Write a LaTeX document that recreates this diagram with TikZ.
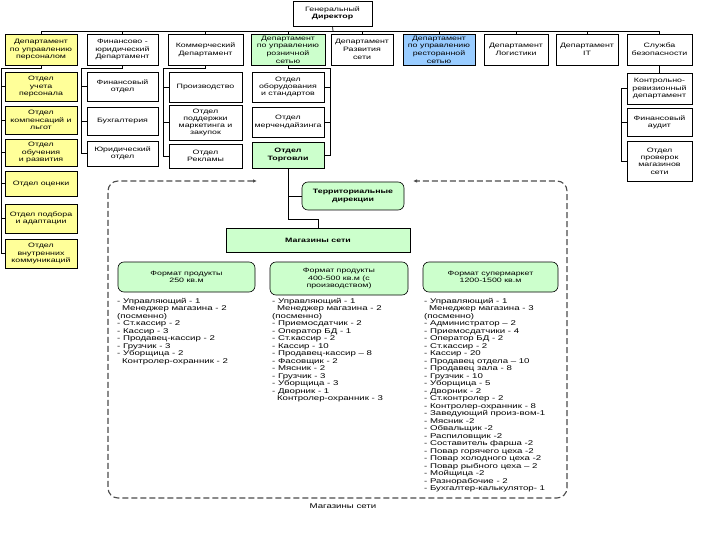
\documentclass[tikz,border=0pt]{standalone}
\usepackage{fontspec}
\setmainfont{Liberation Sans}[FakeStretch=1.4]
\usetikzlibrary{arrows.meta,calc}
\definecolor{hry}{HTML}{FFFF99}
\definecolor{grn}{HTML}{CCFFCC}
\definecolor{blu}{HTML}{99CCFF}
\tikzset{
  boxs/.style={draw=black, line width=0.6pt, fill=white, align=center, inner sep=0pt,
    font=\fontsize{6.3}{7.6}\selectfont},
  deptf/.style={font=\fontsize{6.3}{7.8}\selectfont},
  subf/.style={font=\fontsize{6.3}{7.3}\selectfont},
  yel/.style={fill=hry},
  grnf/.style={fill=grn},
  bluf/.style={fill=blu},
  rnd/.style={rounded corners=6pt, fill=grn},
  conn/.style={draw=black, line width=0.7pt},
  frame/.style={draw=black!70, line width=1.1pt, dash pattern=on 6pt off 3pt},
  lst/.style={align=left, anchor=north west, inner sep=0pt, font=\fontsize{6.9}{7.5}\selectfont},
  tip/.style={-{Latex[length=4pt,width=3.5pt]}}
}
\newcommand\obox[7][]{%
  \pgfmathsetmacro\obw{#4-#2}\pgfmathsetmacro\obh{#5-#3}%
  \node[boxs,#1,minimum width=\obw pt,minimum height=\obh pt] (#6) at ({(#2+#4)/2},{(#3+#5)/2}) {#7};}
\begin{document}
\begin{tikzpicture}[x=1pt,y=-1pt]
\useasboundingbox[fill=white] (0,0) rectangle (720,540);
% top
\obox{293}{1}{372}{26}{gd}{Генеральный\\\textbf{Директор}}
\obox[yel,deptf]{5}{34}{77}{65}{d1}{Департамент\\по управлению\\персоналом}
\obox[deptf]{87}{34}{158}{65}{d2}{Финансово -\\юридический\\Департамент}
\obox[deptf]{168}{34}{243}{65}{d3}{Коммерческий\\Департамент}
\obox[grnf]{251}{34}{325}{65}{d4}{Департамент\\по управлению\\розничной\\сетью}
\obox[deptf]{331}{34}{393}{65}{d5}{Департамент\\Развития\\сети}
\obox[bluf]{403}{34}{475}{65}{d6}{Департамент\\по управлению\\ресторанной\\сетью}
\obox[deptf]{484}{34}{548}{65}{d7}{Департамент\\Логистики}
\obox[deptf]{556}{34}{618}{65}{d8}{Департамент\\IT}
\obox[deptf]{627}{34}{692}{65}{d9}{Служба\\безопасности}
% HR column
\obox[yel,subf]{5}{72}{77}{101}{h1}{Отдел\\учета\\персонала}
\obox[yel,subf]{5}{106}{77}{134}{h2}{Отдел\\компенсаций и\\льгот}
\obox[yel,subf]{5}{139}{77}{166}{h3}{Отдел\\обучения\\и развития}
\obox[yel,subf]{5}{171}{77}{196}{h4}{Отдел оценки}
\obox[yel,subf]{5}{204}{77}{233}{h5}{Отдел подбора\\и адаптации}
\obox[yel,subf]{5}{239}{77}{268}{h6}{Отдел\\внутренних\\коммуникаций}
% finance column
\obox[subf]{87}{72}{158}{101}{f1}{Финансовый\\отдел}
\obox[subf]{87}{107}{158}{135}{f2}{Бухгалтерия}
\obox[subf]{87}{141}{158}{166}{f3}{Юридический\\отдел}
% commercial column
\obox[subf]{169}{72}{242}{102}{c1}{Производство}
\obox[subf]{169}{105}{242}{140}{c2}{Отдел\\поддержки\\маркетинга и\\закупок}
\obox[subf]{169}{144}{242}{168}{c3}{Отдел\\Рекламы}
% retail column
\obox[subf]{252}{72}{324}{102}{r1}{Отдел\\оборудования\\и стандартов}
\obox[subf]{252}{107}{324}{137}{r2}{Отдел\\мерчендайзинга}
\obox[grnf,subf]{252}{142}{324}{168}{r3}{\textbf{Отдел}\\\textbf{Торговли}}
% security column
\obox[subf]{627}{73}{692}{104}{s1}{Контрольно-\\ревизионный\\департамент}
\obox[subf]{627}{108}{692}{136}{s2}{Финансовый\\аудит}
\obox[subf]{627}{141}{692}{181}{s3}{Отдел\\проверок\\магазинов\\сети}
% network
\obox[rnd,subf]{302}{182}{404}{210}{ter}{\textbf{Территориальные}\\\textbf{дирекции}}
\obox[grnf,subf]{226}{228}{410}{252}{mag}{\textbf{Магазины сети}}
\obox[rnd,subf]{118}{262}{255}{292}{fm1}{Формат продукты\\250 кв.м}
\obox[rnd,subf]{270}{262}{408}{295}{fm2}{Формат продукты\\400-500 кв.м (с\\производством)}
\obox[rnd,subf]{423}{262}{558}{292}{fm3}{Формат супермаркет\\1200-1500 кв.м}
% connectors top
\coordinate (bus) at (333,31);
\draw[conn] (gd.south) -- (bus);
\foreach \d in {d1,d2,d3,d4,d5,d6,d7,d8,d9} \draw[conn] (\d.north) |- (bus);
% HR
\draw[conn] (d1.south) -- ++(0,3) -| ([xshift=-3pt]h6.west) -- (h6.west);
\foreach \h in {h1,h2,h3,h4,h5} \draw[conn] (\h.west) -- ++(-3,0);
% finance
\draw[conn] (d2.south) -- ++(0,3) -| ([xshift=-5pt]f3.west) -- (f3.west);
\foreach \h in {f1,f2} \draw[conn] (\h.west) -- ++(-5,0);
% commercial
\draw[conn] (d3.south) -- ++(0,3) -| ([xshift=-5pt]c3.west) -- (c3.west);
\foreach \h in {c1,c2} \draw[conn] (\h.west) -- ++(-5,0);
% retail
\draw[conn] (d4.south) -- ++(0,3) -| ([xshift=6pt]r3.east) -- (r3.east);
\foreach \h in {r1,r2} \draw[conn] (\h.east) -- ++(6,0);
% security
\draw[conn] (d9.south) -- (s1.north);
\draw[conn] (s1.west) -- ++(-5,0) |- (s3.west);
\draw[conn] (s2.west) -- ++(-5,0);
% trade
\draw[conn] (r3.south) |- ([yshift=8pt]mag.north) -- (mag.north);
\draw[conn] (r3.south |- ter.west) -- (ter.west);
% dashed frame
\coordinate (fl) at (257,181);
\coordinate (fr) at (413,181);
\draw[frame,{Latex[length=4pt,width=3.5pt]}-{Latex[length=4pt,width=3.5pt]},rounded corners=10pt]
  (fl) -- (108,181) -- (108,498) -- (567,498) -- (567,181) -- (fr);
\node[font=\fontsize{6.9}{8}\selectfont] (lab) at (343,506) {Магазины сети};
% lists
\node[lst] (l1) at (117,298) {- Управляющий - 1\\
\hspace{0.7em}Менеджер магазина - 2\\
(посменно)\\
- Ст.кассир - 2\\
- Кассир - 3\\
- Продавец-кассир - 2\\
- Грузчик - 3\\
- Уборщица - 2\\
\hspace{0.7em}Контролер-охранник - 2};
\node[lst] (l2) at (272,298) {- Управляющий - 1\\
\hspace{0.7em}Менеджер магазина - 2\\
(посменно)\\
- Приемосдатчик - 2\\
- Оператор БД - 1\\
- Ст.кассир - 2\\
- Кассир - 10\\
- Продавец-кассир – 8\\
- Фасовщик - 2\\
- Мясник - 2\\
- Грузчик - 3\\
- Уборщица - 3\\
- Дворник - 1\\
\hspace{0.7em}Контролер-охранник - 3};
\node[lst] (l3) at (424,298) {- Управляющий - 1\\
\hspace{0.7em}Менеджер магазина - 3\\
(посменно)\\
- Администратор – 2\\
- Приемосдатчики - 4\\
- Оператор БД - 2\\
- Ст.кассир - 2\\
- Кассир - 20\\
- Продавец отдела – 10\\
- Продавец зала - 8\\
- Грузчик - 10\\
- Уборщица - 5\\
- Дворник - 2\\
- Ст.контролер - 2\\
- Контролер-охранник - 8\\
- Заведующий произ-вом-1\\
- Мясник -2\\
- Обвальщик -2\\
- Распиловщик -2\\
- Составитель фарша -2\\
- Повар горячего цеха -2\\
- Повар холодного цеха -2\\
- Повар рыбного цеха – 2\\
- Мойщица -2\\
- Разнорабочие - 2\\
- Бухгалтер-калькулятор- 1};
\end{tikzpicture}
\end{document}
